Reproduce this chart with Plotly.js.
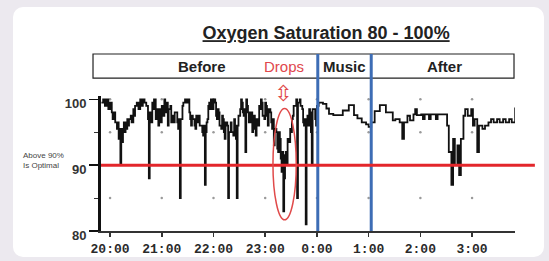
<!DOCTYPE html>
<html><head><meta charset="utf-8">
<script src="https://cdn.plot.ly/plotly-3.0.1.min.js"></script>
<style>
html,body{margin:0;padding:0;background:#ece9ef;width:549px;height:261px;overflow:hidden;}
#card{position:absolute;left:13px;top:7px;width:531px;height:250px;background:#fff;border-radius:10px;}
#chart{position:absolute;left:0;top:0;width:549px;height:261px;}
</style></head><body>
<div id="card"></div><div id="chart"></div>
<script>
// minutes after 20:00 and oxygen saturation (%), by phase
const beforeTimes = [
 -10,-8,-6,-4,-2,0,2,3,5,6,
 8,9,10,11,12,13,14,15,16,17,
 18,19,20,21,22,24,25,27,28,29,
 31,33,35,37,38,40,42,44,45,46,
 47,49,50,51,53,54,56,57,58,60,
 61,63,64,65,66,67,68,70,71,72,
 74,75,77,78,79,80,81,82,84,85,
 87,89,90,92,93,94,95,96,98,99,
 100,101,103,104,106,107,108,109,110,111,
 112,113,114,115,116,117,118,119,120,122,
 123,124,125,126,127,129,130,131,132,133,
 134,136,137,138,140,141,143,144,145,146,
 147,148,149,151,152,153,154,155,156,157,
 158,159,160,161,163,165,166,167,168,169,
 170,172,173,174,175,176,177,179,180,181,
 182,183,184,186,187,188,189,190,191,193,
 194,195,196,197,198,199,200,201,202,203,
 204,205,206,208,209,210,211,212,213,215,
 216,217,218,220,221,223,224,225,226,227,
 228,229,230,231,232,233,234,235,237,238,
 239,240
];
const beforeSpo2 = [
 99.5,100,99,100,98.5,99.5,98,97,98,96.5,
 95.5,96.5,94,95.5,90,95.5,93.5,95,96.5,95,
 96.5,95.5,97,96,97,97.5,96.5,98.5,97.5,99,
 99.5,98.5,100,99,100,99.5,99,97,88,98,
 96.5,99.5,98.5,100,97,98.5,96,98.5,96.5,99,
 97.5,100,99,98,99.5,96,98.5,99,96.5,97.5,
 96.5,98,98,96.5,95.5,97,85,97,99,99.5,
 100,99.5,100,98,97,96,97.5,97,96,95.5,
 97.5,96.5,97.5,96,96,95,94.5,96,87,95,
 96.5,97,99,99.5,98.5,100,99,98.5,100,99.5,
 97.5,97,98.5,98,96,95.5,97.5,97,95,94,
 96.5,96,85,95,96.5,95,94.5,97,96,94,
 85,96,97.5,98.5,100,99.5,98,97.5,98.5,92,
 100,99,98,96.5,98,95,96.5,97.5,95.5,94.5,
 97,96,99,98.5,100,99.5,97.5,97,99.5,99,
 97.5,96,98.5,98,96.5,95.5,97,93,95.5,95,
 92.5,92,95,94,91,89,92,83,88,91.5,
 92,90,94,93.5,95.5,95,97,97.5,99,99,
 100,85,99.5,100,99,98.5,96.5,96,97,81,
 96,97.5,96,98.5,98,95,90,98.5,98.5,97,
 96,99
];
const musicTimes = [242,247,251,254,259,266,270,277,283,287,292,297,300];
const musicSpo2  = [99.5,99.3,98.6,97.8,97.6,97.6,98.3,99.1,97.6,97.1,96.5,96.2,95.8];
const afterTimes = [303,307,313,320,328,331,336,339,341,345,348,352,354,356,361,363,365,370,372,378,380,391,393,396,398,400,403,405,407,410,412,415,419,421,423,426,428,432,435,439,442,445,449,452,456,459,463,466,470,471];
const afterSpo2  = [96.5,98.2,99.1,98,96.8,97,96.5,94,96.5,97.5,96.8,97.7,98.5,97.6,97.7,97,97.7,97,97.7,97,97.7,96,92,87,94,90,93,88.5,94,97.5,98.5,97.5,98.5,96,97,92,96,95.5,96,96.5,97,96.5,97,96.5,97,96.5,97,96.5,98.6,98.6];

const hourTicks = [0,60,120,180,240,300,360,420];
const hourLabels = ["20:00","21:00","22:00","23:00","0:00","1:00","2:00","3:00"];
const yTicks = [80,90,100];
const yMinorTicks = [85,95];
const gridLevels = [85,95,100];
const optimalLevel = 90;
const musicStart = 241;
const musicEnd = 303;
const phaseLabels = ["Before","Drops","Music","After"];
const titleText = "Oxygen Saturation 80 - 100%";
const noteLines = ["Above 90%","Is Optimal"];

const times = beforeTimes.concat(musicTimes, afterTimes);
const spo2 = beforeSpo2.concat(musicSpo2, afterSpo2);

const dotX = [], dotY = [];
gridLevels.forEach(l => hourTicks.forEach(h => { dotX.push(h); dotY.push(l); }));

const traces = [
  {x: dotX, y: dotY, type: 'scatter', mode: 'markers',
   marker: {size: 2.5, color: '#9a9a9a'}, hoverinfo: 'skip', showlegend: false},
  {x: times, y: spo2, type: 'scatter', mode: 'lines',
   line: {shape: 'hv', color: '#111', width: 1.8}, showlegend: false}
];

const BOX_B = 1.133, BOX_T = 1.311;
const shapes = [
  {type: 'rect', xref: 'paper', yref: 'paper', x0: -0.0193, x1: 0.9976, y0: BOX_B, y1: BOX_T,
   line: {color: '#222', width: 1.2}},
  {type: 'line', xref: 'x', yref: 'paper', x0: musicStart, x1: musicStart, y0: 0, y1: BOX_T,
   line: {color: '#3d6db5', width: 3}},
  {type: 'line', xref: 'x', yref: 'paper', x0: musicEnd, x1: musicEnd, y0: 0, y1: BOX_T,
   line: {color: '#3d6db5', width: 3}},
  {type: 'line', xref: 'paper', yref: 'y', x0: 0, x1: 1.048, y0: optimalLevel, y1: optimalLevel,
   line: {color: '#e3262b', width: 3}},
  {type: 'circle', xref: 'x', yref: 'y', x0: 189, x1: 216, y0: 81.7, y1: 98.6,
   line: {color: '#e04a4a', width: 1.5}}
];

const sans = 'Liberation Sans, Arial, sans-serif';
const boxFont = {family: sans, size: 15, color: '#222', weight: 'bold'};
const boxY = 1.222;
const annotations = [
  {text: phaseLabels[0], xref: 'paper', yref: 'paper', x: 0.244, y: boxY, xanchor: 'center', yanchor: 'middle', showarrow: false, font: boxFont},
  {text: phaseLabels[1], xref: 'paper', yref: 'paper', x: 0.441, y: boxY, xanchor: 'center', yanchor: 'middle', showarrow: false,
   font: {family: sans, size: 15, color: '#e0474c'}},
  {text: phaseLabels[2], xref: 'paper', yref: 'paper', x: 0.587, y: boxY, xanchor: 'center', yanchor: 'middle', showarrow: false, font: boxFont},
  {text: phaseLabels[3], xref: 'paper', yref: 'paper', x: 0.829, y: boxY, xanchor: 'center', yanchor: 'middle', showarrow: false, font: boxFont},
  {text: '⇳', xref: 'paper', yref: 'paper', x: 0.44, y: 1.015, xanchor: 'center', yanchor: 'middle', showarrow: false,
   font: {family: 'DejaVu Sans', size: 22, color: '#e04a4a'}},
  {text: noteLines.join('<br>'), xref: 'paper', yref: 'paper', x: -0.191, y: 0.52, xanchor: 'left', yanchor: 'middle',
   align: 'left', showarrow: false, borderpad: 0,
   font: {family: sans, size: 8, color: '#444'}}
];

const layout = {
  width: 549, height: 261,
  margin: {l: 101, r: 34, t: 96, b: 30, pad: 0},
  paper_bgcolor: 'rgba(0,0,0,0)', plot_bgcolor: 'rgba(0,0,0,0)',
  title: {text: '<b><u>' + titleText + '</u></b>', x: 0.594, xanchor: 'center', xref: 'container',
          y: 0.874, yanchor: 'middle', yref: 'container',
          font: {family: sans, size: 18, color: '#222'}},
  xaxis: {range: [-10.5, 469.8], tickvals: hourTicks, ticktext: hourLabels,
          showgrid: false, zeroline: false, showline: true, linecolor: '#333', linewidth: 2,
          ticks: 'outside', ticklen: 4, tickcolor: '#333', tickwidth: 1.5,
          tickfont: {family: 'Liberation Mono, DejaVu Sans Mono, monospace', size: 13, color: '#2a2a2a', weight: 'bold'}},
  yaxis: {range: [80, 100.5], tickvals: yTicks, ticktext: yTicks.map(String),
          showgrid: false, zeroline: false, showline: true, linecolor: '#111', linewidth: 3,
          ticks: 'outside', ticklen: 9, tickcolor: '#111', tickwidth: 1.5, ticklabelshift: 4,
          minor: {tickvals: yMinorTicks, ticks: 'outside', ticklen: 4, tickcolor: '#333', tickwidth: 1},
          tickfont: {family: sans, size: 13, color: '#333', weight: 'bold'}},
  shapes: shapes,
  annotations: annotations,
  showlegend: false
};

Plotly.newPlot('chart', traces, layout, {displayModeBar: false, staticPlot: true});
</script>
</body></html>
